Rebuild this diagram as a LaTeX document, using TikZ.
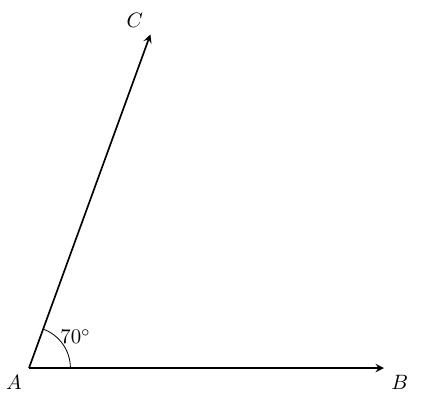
\documentclass[tikz,border=0pt]{standalone}
\usepackage{tikz}
\usetikzlibrary{positioning}

\begin{document}
\begin{tikzpicture}
  \useasboundingbox (-0.49,-0.69) rectangle (6.71,6.22);
  \coordinate (A) at (0,0);
  \coordinate (B) at (6,0);
  \coordinate (C) at (70:6);
  \node [below left]  at (A) {$A$};
  \node [below right] at (B) {$B$};
  \node [above left]  at (C) {$C$};
  \path[-stealth,thick]
    (A) edge (B)
        edge (C);
  \draw (0.7,0) arc [start angle=0,end angle=70,radius=0.7];
  \node (ang) at (34:0.95) {$70^\circ$};
\end{tikzpicture}
\end{document}
